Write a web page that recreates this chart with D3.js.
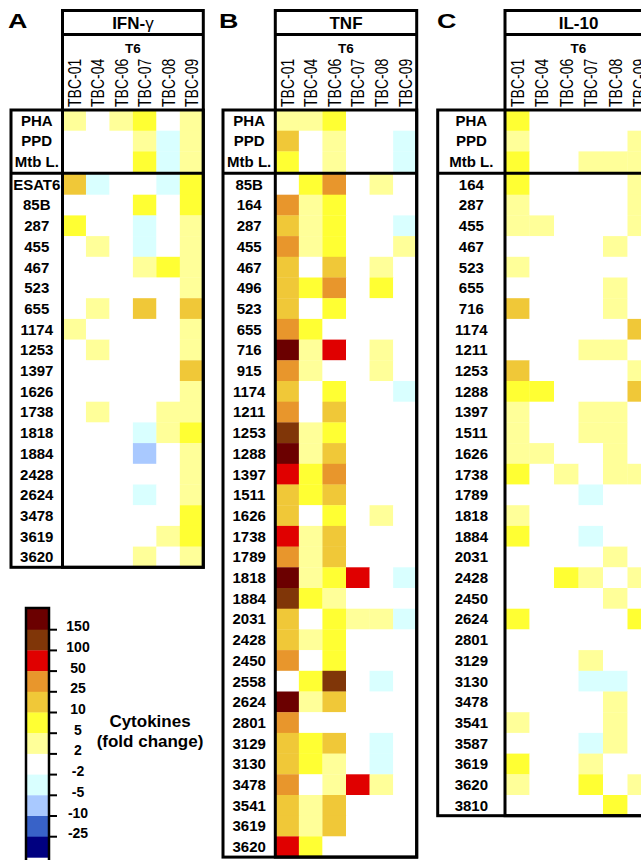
<!DOCTYPE html>
<html>
<head>
<meta charset="utf-8">
<script src="https://cdn.jsdelivr.net/npm/d3@7"></script>
<style>
  body { margin: 0; background: #fff; }
  svg { display: block; font-family: "Liberation Sans", Arial, Helvetica, sans-serif; }
</style>
</head>
<body>
<svg id="chart" width="641" height="860"></svg>
<script>
// ------------------- DATA -------------------
// donor columns (all at T6)
var columns = ["TBC-01", "TBC-04", "TBC-06", "TBC-07", "TBC-08", "TBC-09"];
var controlRows = ["PHA", "PPD", "Mtb L."];

// fold change values (one row per stimulus, one value per donor)
var ifngPeptides = ["ESAT6", "85B", "287", "455", "467", "523", "655", "1174", "1253", "1397",
  "1626", "1738", "1818", "1884", "2428", "2624", "3478", "3619", "3620"];
var ifngControls = [
  [3, 1, 3, 7, 1, 3],
  [1, 1, 1, 3, -3, 3],
  [1, 1, 1, 7, -3, 3]
];
var ifngValues = [
  [15, -3, 1, 1, -3, 7],
  [1, 1, 1, 7, 1, 7],
  [7, 1, 1, -3, 1, 3],
  [1, 3, 1, -3, 1, 3],
  [1, 1, 1, 3, 7, 3],
  [1, 1, 1, 1, 1, 3],
  [1, 3, 1, 15, 1, 15],
  [3, 1, 1, 1, 1, 3],
  [1, 3, 1, 1, 1, 3],
  [1, 1, 1, 1, 1, 15],
  [1, 1, 1, 1, 1, 3],
  [1, 3, 1, 1, 3, 3],
  [1, 1, 1, -3, 3, 7],
  [1, 1, 1, -7, 1, 3],
  [1, 1, 1, 1, 1, 3],
  [1, 1, 1, -3, 1, 3],
  [1, 1, 1, 1, 1, 7],
  [1, 1, 1, 1, 3, 7],
  [1, 1, 1, 3, 1, 3]
];

var tnfPeptides = ["85B", "164", "287", "455", "467", "496", "523", "655", "716", "915", "1174",
  "1211", "1253", "1288", "1397", "1511", "1626", "1738", "1789", "1818", "1884", "2031",
  "2428", "2450", "2558", "2624", "2801", "3129", "3130", "3478", "3541", "3619", "3620"];
var tnfControls = [
  [3, 3, 7, 1, 1, 1],
  [15, 1, 3, 1, 1, -3],
  [7, 1, 3, 1, 1, -3]
];
var tnfValues = [
  [1, 7, 35, 1, 3, 1],
  [35, 3, 7, 1, 1, 1],
  [15, 3, 7, 1, 1, -3],
  [35, 3, 7, 1, 1, 3],
  [15, 1, 15, 1, 3, 1],
  [15, 7, 35, 1, 7, 1],
  [15, 1, 7, 1, 1, 1],
  [35, 7, 1, 1, 1, 1],
  [200, 3, 70, 1, 3, 1],
  [35, 3, 1, 1, 3, 1],
  [15, 1, 7, 1, 1, -3],
  [35, 1, 15, 1, 1, 1],
  [120, 3, 7, 1, 1, 1],
  [200, 3, 15, 1, 1, 1],
  [70, 7, 35, 1, 1, 1],
  [15, 7, 15, 1, 1, 1],
  [15, 1, 7, 1, 3, 1],
  [70, 3, 15, 1, 1, 1],
  [35, 3, 15, 1, 1, 1],
  [200, 3, 7, 70, 1, -3],
  [120, 7, 3, 1, 1, 1],
  [15, 1, 7, 3, 3, -3],
  [15, 3, 7, 1, 1, 1],
  [35, 1, 7, 1, 1, 1],
  [1, 7, 120, 1, -3, 1],
  [200, 3, 15, 1, 1, 1],
  [35, 1, 1, 1, 1, 1],
  [15, 7, 15, 1, -3, 1],
  [15, 7, 3, 1, -3, 1],
  [35, 1, 3, 70, 3, 1],
  [15, 3, 15, 1, 1, 1],
  [15, 3, 15, 1, 1, 1],
  [70, 7, 1, 1, 1, 1]
];

var il10Peptides = ["164", "287", "455", "467", "523", "655", "716", "1174", "1211", "1253",
  "1288", "1397", "1511", "1626", "1738", "1789", "1818", "1884", "2031", "2428", "2450",
  "2624", "2801", "3129", "3130", "3478", "3541", "3587", "3619", "3620", "3810"];
var il10Controls = [
  [7, 1, 1, 1, 1, 1],
  [3, 1, 1, 1, 1, 3],
  [7, 1, 1, 3, 3, 3]
];
var il10Values = [
  [7, 1, 1, 1, 1, 3],
  [3, 1, 1, 1, 1, 3],
  [3, 3, 1, 1, 1, 3],
  [1, 1, 1, 1, 3, 1],
  [3, 1, 1, 1, 1, 1],
  [1, 1, 1, 1, 3, 1],
  [15, 1, 1, 1, 3, 1],
  [1, 1, 1, 1, 1, 15],
  [1, 1, 1, 3, 3, 1],
  [15, 1, 1, 1, 1, 3],
  [7, 7, 1, 1, 1, 15],
  [3, 1, 1, 3, 3, 1],
  [3, 1, 1, 3, 3, 1],
  [3, 3, 1, 1, 3, 1],
  [7, 1, 3, 1, 3, 3],
  [1, 1, 1, -3, 1, 1],
  [3, 1, 1, 1, 1, 1],
  [7, 1, 1, -3, 1, 1],
  [1, 1, 1, 1, 3, 1],
  [1, 1, 7, 3, 1, 3],
  [1, 1, 1, 1, 3, 1],
  [7, 1, 1, 1, 1, 7],
  [1, 1, 1, 1, 1, 1],
  [1, 1, 1, 3, 1, 1],
  [1, 1, 1, -3, -3, 1],
  [1, 1, 1, 1, 3, 1],
  [3, 1, 1, 1, 3, 1],
  [1, 1, 1, -3, 3, 1],
  [7, 1, 1, 3, 1, 1],
  [3, 1, 1, 7, 1, 3],
  [1, 1, 1, 1, 7, 1]
];

// colour key
var thresholds = [-25, -10, -5, -2, 2, 5, 10, 25, 50, 100, 150];
var keyColors = ["#000080", "#3862c8", "#a9c9ff", "#d9ffff", "#ffffff", "#ffff99",
  "#ffff33", "#f0c838", "#e8962c", "#e00000", "#803608", "#6b0000"];
var tickLabels = ["-25", "-10", "-5", "-2", "2", "5", "10", "25", "50", "100", "150"];
// ------------------- END DATA -------------------

var svg = d3.select("#chart");
var color = d3.scaleThreshold().domain(thresholds).range(keyColors);

var rowH = 20.7;
var headerBottom = 110;
var splitY = 173.3;
var bodyTop = 174;

var panels = [
  { letter: "A", title: "IFN-", greek: "\u03b3", peptides: ifngPeptides, controls: ifngControls, values: ifngValues,
    left: 11, sep: 62.5, right: 203.3, letterX: 8 },
  { letter: "B", title: "TNF", greek: "", peptides: tnfPeptides, controls: tnfControls, values: tnfValues,
    left: 223, sep: 275.3, right: 416.7, letterX: 219 },
  { letter: "C", title: "IL-10", greek: "", peptides: il10Peptides, controls: il10Controls, values: il10Values,
    left: 437.7, sep: 505, right: 652, letterX: 437 }
];

panels.forEach(function(p) {
  var g = svg.append("g");
  var cellRight = p.sep + (p.right - p.sep > 150 ? 141.4 : p.right - p.sep);
  var x = d3.scaleBand().domain(columns).range([p.sep, cellRight]);
  var yTop = d3.scaleBand().domain(controlRows).range([headerBottom, headerBottom + 3 * rowH]);
  var bottom = bodyTop + p.peptides.length * rowH;
  var yBody = d3.scaleBand().domain(p.peptides).range([bodyTop, bottom]);

  // cells
  function drawCells(rows, vals, y) {
    rows.forEach(function(r, i) {
      g.selectAll(null)
        .data(vals[i])
        .enter()
        .append("rect")
        .attr("x", function(d, j) { return x(columns[j]); })
        .attr("y", y(r))
        .attr("width", x.bandwidth() + 0.3)
        .attr("height", y.bandwidth() + 0.3)
        .attr("fill", function(d) { return color(d); });
    });
  }
  drawCells(controlRows, p.controls, yTop);
  drawCells(p.peptides, p.values, yBody);

  // borders
  g.append("rect")
    .attr("x", p.left).attr("y", headerBottom)
    .attr("width", p.right - p.left).attr("height", bottom - headerBottom)
    .attr("fill", "none").attr("stroke", "#000").attr("stroke-width", 3);
  g.append("rect")
    .attr("x", p.sep).attr("y", 10.5)
    .attr("width", p.right - p.sep).attr("height", bottom - 10.5)
    .attr("fill", "none").attr("stroke", "#000").attr("stroke-width", 3);
  g.append("line")
    .attr("x1", p.sep).attr("x2", p.right).attr("y1", 34.5).attr("y2", 34.5)
    .attr("stroke", "#000").attr("stroke-width", 3);
  g.append("line")
    .attr("x1", p.left).attr("x2", p.right).attr("y1", splitY).attr("y2", splitY)
    .attr("stroke", "#000").attr("stroke-width", 3);

  // panel letter
  g.append("text")
    .attr("transform", "translate(" + p.letterX + ",27.5) scale(1.28,1)")
    .attr("font-size", 21).attr("font-weight", "bold")
    .text(p.letter);

  // title
  var t = g.append("text")
    .attr("x", (p.sep + (p.letter === "C" ? 652 : p.right)) / 2)
    .attr("y", 29)
    .attr("text-anchor", "middle")
    .attr("font-size", 17).attr("font-weight", "bold")
    .text(p.title);
  if (p.greek) t.append("tspan").attr("font-weight", "normal").text(p.greek);

  // T6 header
  g.append("text")
    .attr("x", (p.sep + cellRight) / 2)
    .attr("y", 53)
    .attr("text-anchor", "middle")
    .attr("font-size", 13.5).attr("font-weight", "bold")
    .text("T6");

  // donor labels
  g.selectAll(".col")
    .data(columns)
    .enter()
    .append("text")
    .attr("transform", function(d) {
      return "translate(" + (x(d) + x.bandwidth() / 2) + ",107) rotate(-90) scale(1,1.35)";
    })
    .attr("dy", "0.35em")
    .attr("font-size", 14)
    .text(function(d) { return d; });

  // row labels
  var cx = (p.left + p.sep) / 2;
  g.selectAll(".ctrl")
    .data(controlRows)
    .enter()
    .append("text")
    .attr("x", cx)
    .attr("y", function(d) { return yTop(d) + yTop.bandwidth() / 2; })
    .attr("dy", "0.36em")
    .attr("text-anchor", "middle")
    .attr("font-size", 15).attr("font-weight", "bold")
    .text(function(d) { return d; });
  g.selectAll(".pep")
    .data(p.peptides)
    .enter()
    .append("text")
    .attr("x", cx)
    .attr("y", function(d) { return yBody(d) + yBody.bandwidth() / 2; })
    .attr("dy", "0.36em")
    .attr("text-anchor", "middle")
    .attr("font-size", 15).attr("font-weight", "bold")
    .text(function(d) { return d; });
});

// ------------------- COLOUR KEY -------------------
var levels = d3.range(keyColors.length).reverse();
var keyY = d3.scaleBand().domain(levels).range([609, 609 + keyColors.length * rowH]);
var key = svg.append("g");

key.selectAll("rect.seg")
  .data(levels)
  .enter()
  .append("rect")
  .attr("x", 26.5)
  .attr("y", function(d) { return keyY(d); })
  .attr("width", 22)
  .attr("height", keyY.bandwidth() + 0.3)
  .attr("fill", function(d) { return keyColors[d]; });

key.append("rect")
  .attr("x", 26).attr("y", 608)
  .attr("width", 23).attr("height", 860 - 608 + 2)
  .attr("fill", "none").attr("stroke", "#000").attr("stroke-width", 2.5);

// boundary between level i and i+1 sits at the top of band i
key.selectAll("line.tick")
  .data(tickLabels)
  .enter()
  .append("line")
  .attr("x1", 49).attr("x2", 57)
  .attr("y1", function(d, i) { return keyY(i); })
  .attr("y2", function(d, i) { return keyY(i); })
  .attr("stroke", "#000").attr("stroke-width", 2);

key.selectAll("text.tick")
  .data(tickLabels)
  .enter()
  .append("text")
  .attr("x", 78)
  .attr("y", function(d, i) { return keyY(i) + 1.5; })
  .attr("text-anchor", "middle")
  .attr("font-size", 14).attr("font-weight", "bold")
  .text(function(d) { return d; });

key.append("text")
  .attr("x", 150).attr("y", 727)
  .attr("text-anchor", "middle")
  .attr("font-size", 17).attr("font-weight", "bold")
  .text("Cytokines");
key.append("text")
  .attr("x", 150).attr("y", 747)
  .attr("text-anchor", "middle")
  .attr("font-size", 17).attr("font-weight", "bold")
  .text("(fold change)");
</script>
</body>
</html>
